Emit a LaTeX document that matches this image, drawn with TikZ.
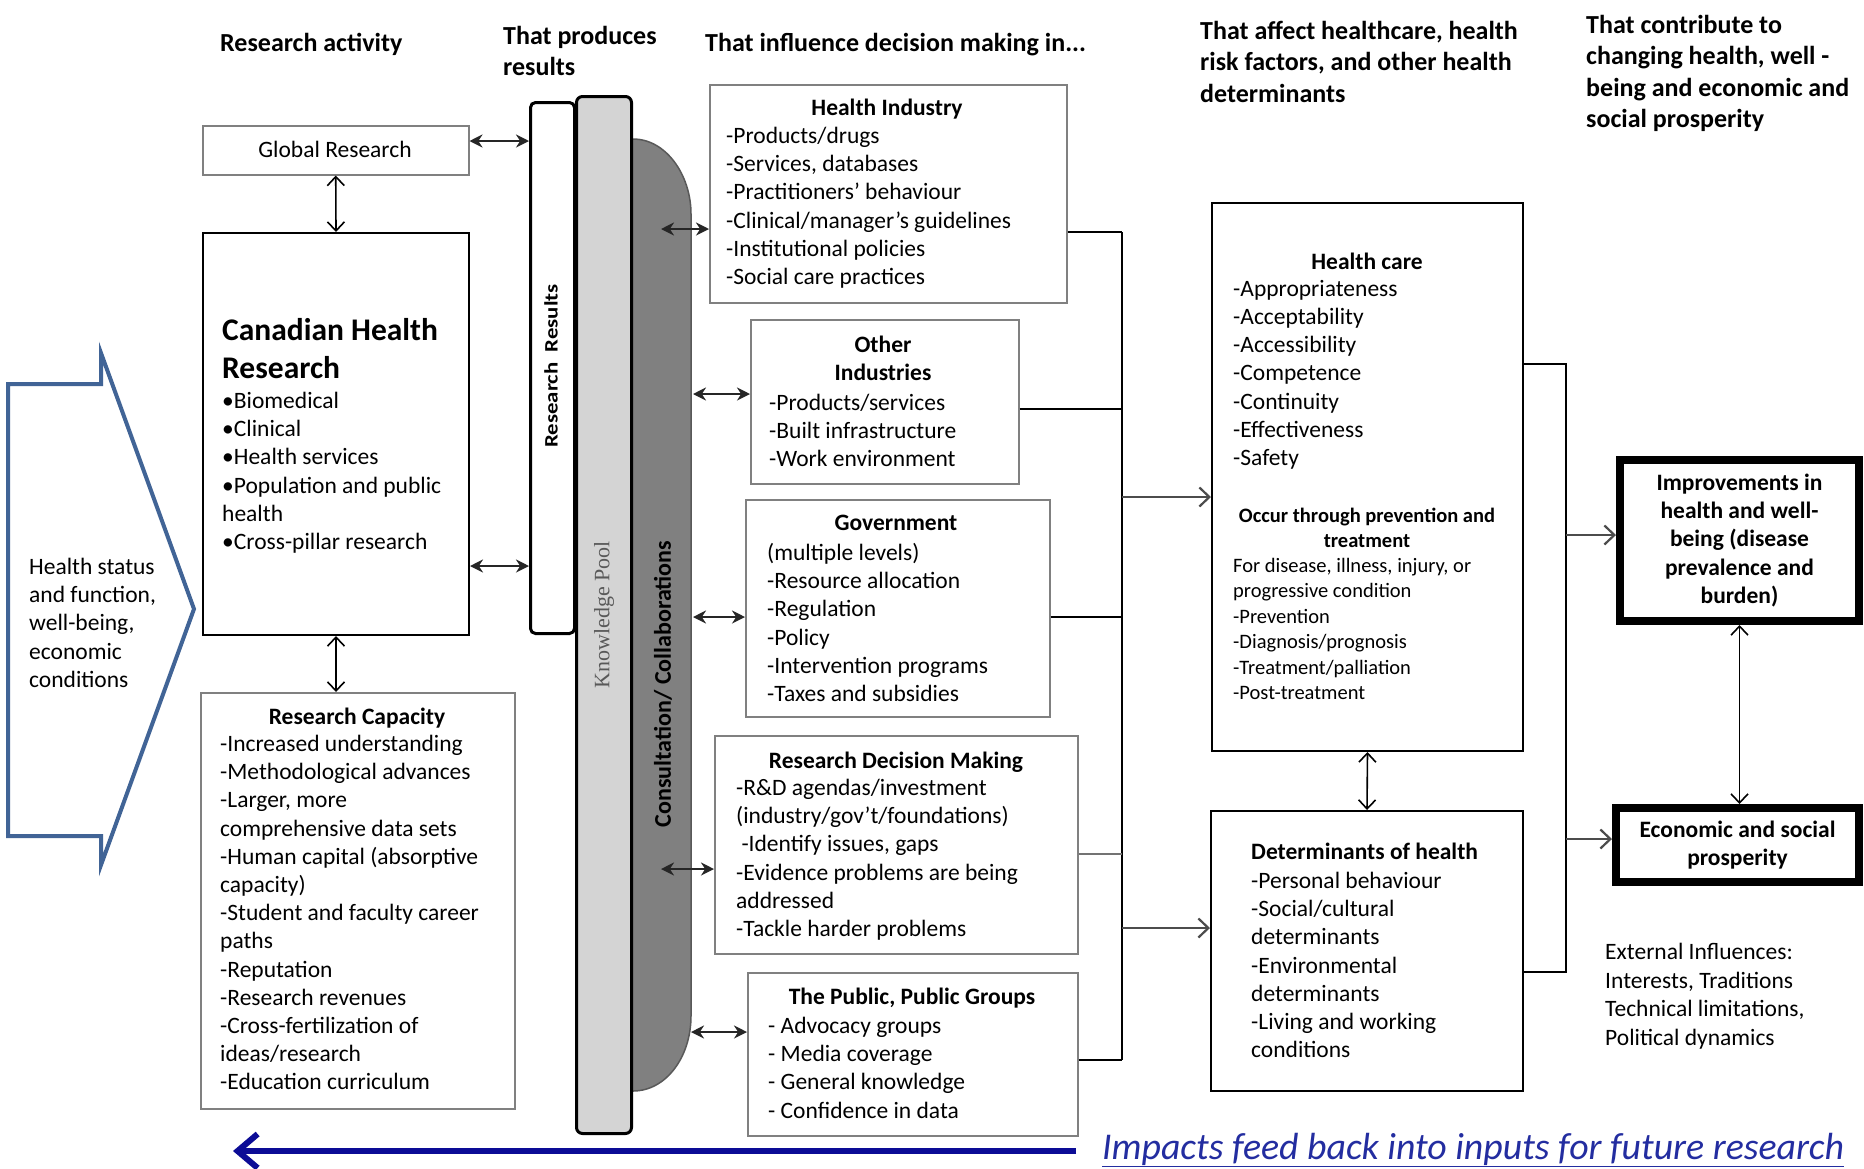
\documentclass[tikz,border=0pt]{standalone}
\usepackage{fontspec}
\setmainfont{Carlito}
\newfontfamily\kpfont{Liberation Serif}
\usetikzlibrary{arrows.meta}
\definecolor{boxgray}{RGB}{128,128,128}
\definecolor{consgray}{RGB}{128,128,128}
\definecolor{kpgray}{RGB}{212,212,212}
\definecolor{arrowblue}{RGB}{65,100,150}
\definecolor{fbblue}{RGB}{12,12,150}
\definecolor{impblue}{RGB}{35,45,160}
\begin{document}
\begin{tikzpicture}[x=1pt,y=-1pt,
  gbox/.style={draw=boxgray, line width=1.5pt, inner sep=0pt, anchor=north west},
  bbox/.style={draw=black, line width=2pt, inner sep=0pt, anchor=north west},
  heavybox/.style={draw=black, line width=8pt, inner sep=0pt, anchor=north west},
  bartxt/.style={inner sep=0pt, rotate=90},
  body/.style={font=\fontsize{23.5}{28.2}\selectfont, inner sep=0pt, align=left, anchor=north west},
  ttl/.style={font=\fontsize{23.5}{28.2}\selectfont\bfseries, inner sep=0pt, align=center, anchor=north},
  small/.style={font=\fontsize{20.5}{25.4}\selectfont, inner sep=0pt, align=left, anchor=north west},
  smallttl/.style={font=\fontsize{20.5}{25}\selectfont\bfseries, inner sep=0pt, align=center, anchor=north},
  hdr/.style={font=\fontsize{26}{31.5}\selectfont\bfseries, inner sep=0pt, align=left, anchor=north west},
  dblf/.style={line width=2.3pt, black!85, {Stealth[length=13pt,width=13pt]}-{Stealth[length=13pt,width=13pt]}},
  dblo/.style={line width=1.6pt, black, {Straight Barb[length=9pt,width=17pt]}-{Straight Barb[length=9pt,width=17pt]}},
  conn/.style={line width=2pt, black},
  sarr/.style={line width=2.2pt, black!70, -{Straight Barb[length=10pt,width=19pt]}},
  fb/.style={line width=6pt, fbblue, -{Straight Barb[length=20pt,width=34pt]}}
]
\useasboundingbox (0,0) rectangle (1864,1168);
\fill[white] (0,0) rectangle (1864,1168);

% ---------- headers ----------
\node[hdr] (h1) at (220,33) {Research activity};
\node[hdr] (h2) at (503,26) {That produces\\results};
\node[hdr] (h3) at (705,33) {That influence decision making in...};
\node[hdr] (h4) at (1200,21) {That affect healthcare, health\\risk factors, and other health\\determinants};
\node[hdr] (h5) at (1586,15) {That contribute to\\changing health, well -\\being and economic and\\social prosperity};

% ---------- left input arrow ----------
\draw[arrowblue, line width=4pt, line join=miter] (8,384) -- (101,384) -- (101,353) -- (194,609) -- (101,865) -- (101,836) -- (8,836) -- cycle;
\node[body] (hs) at (29,558) {Health status\\and function,\\well-being,\\economic\\conditions};

% ---------- research activity column ----------
\node[gbox, minimum width=266, minimum height=49] (glob) at (202,125) {};
\node[font=\fontsize{23.5}{26}\selectfont, inner sep=0pt] (globt) at (335,149) {Global Research};

\node[bbox, minimum width=266, minimum height=402] (chr) at (202,232) {};
\node[font=\fontsize{31.5}{38}\selectfont\bfseries, inner sep=0pt, align=left, anchor=north west] (chrt) at (222,318) {Canadian Health\\Research};
\node[body] (chrb) at (222,392) {•Biomedical\\•Clinical\\•Health services\\•Population and public\\health\\•Cross-pillar research};

\node[gbox, minimum width=314, minimum height=416] (rc) at (200,692) {};
\node[ttl] (rct) at (357,708) {Research Capacity};
\node[body] (rcb) at (220,735) {-Increased understanding\\-Methodological advances\\-Larger, more\\comprehensive data sets\\-Human capital (absorptive\\capacity)\\-Student and faculty career\\paths\\-Reputation\\-Research revenues\\-Cross-fertilization of\\ideas/research\\-Education curriculum};

% ---------- bars ----------
\draw[fill=consgray, draw=black!65, line width=1.5pt] (612,139) -- (633,139) .. controls (666,139) and (691,175) .. (691,214) -- (691,1016) .. controls (691,1057) and (666,1091) .. (633,1091) -- (612,1091) -- cycle;
\node[draw=black, line width=3pt, fill=kpgray, rounded corners=6pt, minimum width=55, minimum height=1037, inner sep=0pt, anchor=north west] (kp) at (575,95) {};
\node[draw=black, line width=3pt, fill=white, rounded corners=5pt, minimum width=44, minimum height=531, inner sep=0pt, anchor=north west] (rr) at (529,101) {};
\node[bartxt, font=\fontsize{19}{22}\selectfont\bfseries] (rrt) at (551,366) {\scalebox{1.2}[1]{Research\ \ Results}};
\node[bartxt, font=\fontsize{22}{24}\selectfont\kpfont, text=black!65] (kpt) at (604,615) {Knowledge Pool};
\node[bartxt, font=\fontsize{24}{26}\selectfont\bfseries] (cct) at (663,684) {Consultation/ Collaborations};

% ---------- decision making boxes ----------
\node[gbox, minimum width=357, minimum height=218] (hi) at (709,84) {};
\node[ttl] (hit) at (887,99) {Health Industry};
\node[body] (hib) at (726,127) {-Products/drugs\\-Services, databases\\-Practitioners’ behaviour\\-Clinical/manager’s guidelines\\-Institutional policies\\-Social care practices};

\node[gbox, minimum width=268, minimum height=164] (oi) at (750,319) {};
\node[ttl] (oit) at (883,336) {Other\\Industries};
\node[body] (oib) at (769,394) {-Products/services\\-Built infrastructure\\-Work environment};

\node[gbox, minimum width=304, minimum height=217] (gov) at (745,499) {};
\node[ttl] (govt) at (896,515) {Government};
\node[body] (govb) at (767,543) {(multiple levels)\\-Resource allocation\\-Regulation\\-Policy\\-Intervention programs\\-Taxes and subsidies};

\node[gbox, minimum width=363, minimum height=218] (rdm) at (714,735) {};
\node[ttl] (rdmt) at (896,752) {Research Decision Making};
\node[body] (rdmb) at (736,779) {-R\&D agendas/investment\\(industry/gov’t/foundations)\\\ -Identify issues, gaps\\-Evidence problems are being\\addressed\\-Tackle harder problems};

\node[gbox, minimum width=330, minimum height=163] (pub) at (747,972) {};
\node[ttl] (pubt) at (912,988) {The Public, Public Groups};
\node[body] (pubb) at (768,1017) {- Advocacy groups\\- Media coverage\\- General knowledge\\- Confidence in data};

% ---------- health care / determinants ----------
\node[bbox, minimum width=311, minimum height=548] (hc) at (1211,202) {};
\node[ttl] (hct) at (1367,253) {Health care};
\node[body] (hcb) at (1233,280) {-Appropriateness\\-Acceptability\\-Accessibility\\-Competence\\-Continuity\\-Effectiveness\\-Safety};
\node[smallttl] (hco) at (1367,508) {Occur through prevention and\\treatment};
\node[small] (hcs) at (1233,558) {For disease, illness, injury, or\\progressive condition\\-Prevention\\-Diagnosis/prognosis\\-Treatment/palliation\\-Post-treatment};

\node[bbox, minimum width=312, minimum height=280] (det) at (1210,810) {};
\node[ttl, anchor=north west] (dett) at (1251,843) {Determinants of health};
\node[body] (detb) at (1251,872) {-Personal behaviour\\-Social/cultural\\determinants\\-Environmental\\determinants\\-Living and working\\conditions};

% ---------- outcomes ----------
\node[heavybox, minimum width=239, minimum height=161] (imp) at (1616,456) {};
\node[font=\fontsize{23.5}{28.4}\selectfont\bfseries, inner sep=0pt, align=center] (impt) at (imp.center) {Improvements in\\health and well-\\being (disease\\prevalence and\\burden)};
\node[heavybox, minimum width=243, minimum height=74] (eco) at (1612,804) {};
\node[font=\fontsize{23.5}{28.4}\selectfont\bfseries, inner sep=0pt, align=center] (ecot) at (eco.center) {Economic and social\\prosperity};
\node[font=\fontsize{23.5}{28.7}\selectfont, inner sep=0pt, align=left, anchor=north west] (ext) at (1605,943) {External Influences:\\Interests, Traditions\\Technical limitations,\\Political dynamics};

% ---------- connectors: research column ----------
\draw[dblo] (glob.south) -- (chr.north);
\draw[dblo] (chr.south) -- (chr.south |- rc.north);
\draw[dblf] (glob.east |- 0,141) -- (rr.west |- 0,141);
\draw[dblf] (chr.east |- 0,566) -- (rr.west |- 0,566);

% ---------- consultation arrows ----------
\coordinate (c1) at (661,229);
\coordinate (c2) at (693,394);
\coordinate (c3) at (693,617);
\coordinate (c4) at (661,869);
\coordinate (c5) at (691,1032);
\draw[dblf] (c1) -- (c1 -| hi.west);
\draw[dblf] (c2) -- (c2 -| oi.west);
\draw[dblf] (c3) -- (c3 -| gov.west);
\draw[dblf] (c4) -- (c4 -| rdm.west);
\draw[dblf] (c5) -- (c5 -| pub.west);

% ---------- left collector ----------
\coordinate (jt) at (1122,232);
\coordinate (jb) at (1122,1060);
\draw[conn] (jt) -- (jb);
\draw[conn] (hi.east |- jt) -- (jt);
\draw[conn] (oi.east |- 0,409) -- (jt |- 0,409);
\draw[conn] (gov.east |- 0,617) -- (jt |- 0,617);
\draw[conn, black!55] (rdm.east |- 0,854) -- (jt |- 0,854);
\draw[conn] (pub.east |- jb) -- (jb);
\draw[sarr] (jt |- 0,497) -- (hc.west |- 0,497);
\draw[sarr] (jt |- 0,928) -- (det.west |- 0,928);

% ---------- right collector ----------
\coordinate (kt) at (1566,364);
\coordinate (kb) at (1566,972);
\draw[conn] (hc.east |- kt) -- (kt) -- (kb) -- (det.east |- kb);
\draw[sarr] (kt |- 0,535) -- (imp.west |- 0,535);
\draw[sarr] (kt |- 0,839) -- (eco.west |- 0,839);
\draw[dblo] (hc.south) -- (det.north);
\draw[dblo] (imp.south) -- (imp.south |- eco.north);

% ---------- feedback arrow ----------
\coordinate (fbR) at (1076,1151);
\coordinate (fbL) at (233,1151);
\draw[fb] (fbR) -- (fbL);
\node[font=\fontsize{37.8}{40}\selectfont\itshape, text=impblue, inner sep=0pt, anchor=west] (fbt) at (1102,1150) {\underline{Impacts feed back into inputs for future research}};
\end{tikzpicture}
\end{document}
